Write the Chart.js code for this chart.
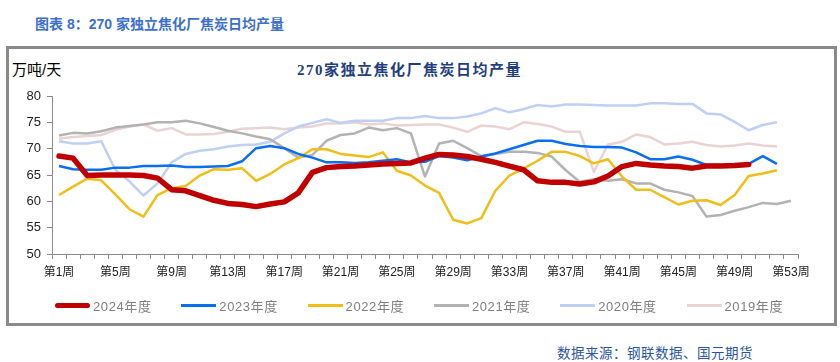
<!DOCTYPE html>
<html>
<head>
<meta charset="utf-8">
<script src="https://cdn.jsdelivr.net/npm/chart.js@4.4.1/dist/chart.umd.min.js"></script>
<style>
  body { margin: 0; background: #fff; width: 840px; height: 362px; position: relative; overflow: hidden; font-family: "Liberation Sans", "Noto Sans CJK SC", sans-serif; }
  #caption { position: absolute; left: 35px; top: 13px; font-size: 14px; font-weight: bold; color: #3d6fcc; white-space: nowrap; }
  #frame { position: absolute; left: 6px; top: 46px; width: 831px; height: 280px; box-sizing: border-box; border: 3px solid #8a8a8a; }
  #unit { position: absolute; left: 12px; top: 58px; font-size: 15px; color: #000; }
  #title { position: absolute; left: 297px; top: 58px; font-size: 15px; font-weight: bold; color: #1f3f80; letter-spacing: 1.5px; font-family: "Liberation Serif", "Noto Sans CJK SC", serif; }
  #source { position: absolute; left: 557px; top: 342px; font-size: 13.5px; color: #2a55a5; letter-spacing: 0.5px; }
  #chartBox { position: absolute; left: 0; top: 0; width: 840px; height: 362px; }
  #legend { position: absolute; left: 0; top: 296px; width: 840px; height: 18px; }
  .legend-item { position: absolute; top: 0; height: 18px; display: flex; align-items: center; white-space: nowrap; }
  .legend-line { display: inline-block; width: 35px; }
  .legend-text { margin-left: 3px; font-size: 13px; color: #808080; letter-spacing: 0.6px; }
</style>
</head>
<body>
<div id="caption">图表 8：270 家独立焦化厂焦炭日均产量</div>
<div id="frame"></div>
<div id="unit">万吨/天</div>
<div id="title">270家独立焦化厂焦炭日均产量</div>
<div id="source">数据来源：钢联数据、国元期货</div>
<div id="chartBox"><canvas id="cokeChart" width="840" height="362"></canvas></div>
<div id="legend"></div>

<script>
// weekly categories
const weeks = [
  "第1周", "第2周", "第3周", "第4周", "第5周", "第6周", "第7周", "第8周", "第9周", "第10周",
  "第11周", "第12周", "第13周", "第14周", "第15周", "第16周", "第17周", "第18周", "第19周", "第20周",
  "第21周", "第22周", "第23周", "第24周", "第25周", "第26周", "第27周", "第28周", "第29周", "第30周",
  "第31周", "第32周", "第33周", "第34周", "第35周", "第36周", "第37周", "第38周", "第39周", "第40周",
  "第41周", "第42周", "第43周", "第44周", "第45周", "第46周", "第47周", "第48周", "第49周", "第50周",
  "第51周", "第52周", "第53周",
];

// daily average output, 10k tonnes / day
const y2024 = [68.6, 68.2, 64.9, 65.0, 65.0, 65.0, 64.9, 64.4, 62.2, 62.0,
  61.1, 60.2, 59.6, 59.4, 59.0, 59.5, 59.9, 61.6, 65.5, 66.4,
  66.6, 66.7, 66.9, 67.1, 67.2, 67.3, 68.2, 68.9, 68.8, 68.5,
  68.0, 67.4, 66.7, 66.0, 63.9, 63.6, 63.6, 63.3, 63.7, 64.8,
  66.6, 67.2, 66.9, 66.7, 66.6, 66.3, 66.7, 66.7, 66.8, 67.0];
const y2023 = [66.7, 66.1, 66.0, 66.0, 66.4, 66.4, 66.7, 66.7, 66.8, 66.5,
  66.5, 66.6, 66.7, 67.6, 70.1, 70.5, 70.1, 69.0, 68.3, 67.4,
  67.4, 67.3, 67.4, 67.7, 68.0, 67.4, 67.5, 68.6, 68.3, 67.8,
  68.5, 69.1, 69.9, 70.7, 71.5, 71.5, 70.9, 70.5, 70.3, 70.3,
  70.2, 69.3, 68.0, 68.0, 68.5, 67.9, 66.9, 66.9, 66.7, 67.1,
  68.6, 67.1];
const y2022 = [61.2, 62.8, 64.3, 64.0, 61.3, 58.5, 57.1, 61.2, 62.5, 62.9,
  64.9, 66.1, 66.0, 66.3, 63.9, 65.2, 67.0, 68.2, 69.9, 69.9,
  69.0, 68.7, 68.4, 69.3, 65.8, 64.9, 63.0, 61.6, 56.5, 55.8,
  56.8, 62.0, 64.9, 66.2, 67.7, 69.4, 69.4, 68.6, 67.2, 68.0,
  64.7, 62.2, 62.2, 60.8, 59.4, 60.1, 60.2, 59.3, 61.2, 64.8,
  65.3, 65.9];
const y2021 = [72.5, 73.0, 72.9, 73.3, 74.0, 74.3, 74.6, 75.0, 75.0, 75.3,
  74.8, 74.1, 73.4, 72.9, 72.3, 71.8, 70.1, 68.3, 68.8, 71.5,
  72.6, 72.9, 74.0, 73.5, 73.9, 72.9, 64.7, 71.0, 71.5, 70.1,
  68.6, 69.0, 69.4, 69.4, 69.2, 68.5, 65.9, 63.7, 64.2, 63.9,
  64.2, 63.4, 63.4, 62.2, 61.7, 61.0, 57.1, 57.4, 58.2, 58.9,
  59.7, 59.5, 60.1];
const y2020 = [71.4, 71.0, 71.0, 71.4, 66.0, 63.8, 61.1, 63.4, 67.4, 69.0,
  69.6, 69.9, 70.4, 70.7, 70.8, 71.3, 72.9, 74.2, 74.9, 75.6,
  74.9, 75.3, 75.3, 75.3, 75.8, 75.8, 76.2, 75.8, 75.8, 76.1,
  76.7, 77.7, 76.9, 77.5, 78.3, 78.0, 78.4, 78.4, 78.3, 78.2,
  78.2, 78.2, 78.6, 78.6, 78.5, 78.5, 76.7, 76.5, 75.1, 73.5,
  74.5, 75.0];
const y2019 = [71.9, 72.2, 72.4, 72.6, 73.6, 74.2, 74.6, 73.4, 73.9, 72.7,
  72.7, 72.8, 73.2, 73.8, 73.9, 74.0, 73.7, 74.0, 74.2, 74.8,
  74.8, 75.0, 74.6, 74.8, 74.4, 74.5, 74.6, 74.6, 74.0, 73.2,
  74.4, 74.2, 73.7, 75.0, 74.7, 74.2, 73.2, 73.2, 65.6, 70.8,
  71.3, 72.7, 72.2, 70.8, 71.0, 71.3, 70.7, 70.4, 70.6, 71.0,
  70.6, 70.4];

const seriesNames = ["2024年度", "2023年度", "2022年度", "2021年度", "2020年度", "2019年度"];
const yTicks = [50, 55, 60, 65, 70, 75, 80];

let cokeChart;

document.addEventListener("DOMContentLoaded", function () {
  initializeCokeChart();
  buildLegend();
});

function makeLine(label, data, color, width) {
  return {
    label: label,
    data: data,
    borderColor: color,
    backgroundColor: color,
    borderWidth: width,
    borderCapStyle: width > 4 ? "round" : "butt",
    borderJoinStyle: "round",
    pointRadius: 0,
    pointHoverRadius: 0,
    tension: 0,
    fill: false,
  };
}

function initializeCokeChart() {
  const ctx = document.getElementById("cokeChart").getContext("2d");
  const axisColor = "#8a8a8a";

  cokeChart = new Chart(ctx, {
    type: "line",
    data: {
      labels: weeks,
      datasets: [
        makeLine(seriesNames[0], y2024, "#c00000", 5.5),
        makeLine(seriesNames[1], y2023, "#0a6ef0", 2.5),
        makeLine(seriesNames[2], y2022, "#efbe18", 2.5),
        makeLine(seriesNames[3], y2021, "#b3b3b3", 2.5),
        makeLine(seriesNames[4], y2020, "#bfcff5", 2.5),
        makeLine(seriesNames[5], y2019, "#e9d3d3", 2.5),
      ],
    },
    options: {
      responsive: false,
      animation: false,
      events: [],
      layout: {
        padding: { left: 0, right: 42, top: 96, bottom: 78 },
      },
      plugins: {
        title: { display: false },
        tooltip: { enabled: false },
        legend: { display: false },
      },
      scales: {
        x: {
          offset: true,
          afterFit: function (scale) {
            scale.height = 30;
          },
          grid: {
            offset: true,
            drawOnChartArea: false,
            drawTicks: true,
            tickLength: 5,
            color: axisColor,
          },
          border: { display: true, color: axisColor, width: 1 },
          ticks: {
            autoSkip: false,
            maxRotation: 0,
            padding: 6,
            color: "#222",
            font: { family: "'Liberation Sans', 'Noto Sans CJK SC'", size: 12 },
            callback: function (value, index) {
              return index % 4 === 0 ? weeks[index] : "";
            },
          },
        },
        y: {
          min: yTicks[0],
          max: yTicks[yTicks.length - 1],
          afterFit: function (scale) {
            scale.width = 52;
          },
          grid: {
            drawOnChartArea: false,
            drawTicks: true,
            tickLength: 5,
            color: axisColor,
          },
          border: { display: true, color: axisColor, width: 1 },
          afterBuildTicks: function (scale) {
            scale.ticks = yTicks.map((v) => ({ value: v }));
          },
          ticks: {
            padding: 6,
            color: "#222",
            font: { family: "'Liberation Sans', sans-serif", size: 13 },
          },
        },
      },
    },
  });
}

// legend drawn as html, one entry per dataset
function buildLegend() {
  const legend = document.getElementById("legend");
  cokeChart.data.datasets.forEach((ds, i) => {
    const item = document.createElement("div");
    item.className = "legend-item";
    item.style.left = 55 + i * 126.3 + "px";

    const line = document.createElement("span");
    line.className = "legend-line";
    line.style.height = ds.borderWidth > 4 ? "5px" : "3px";
    line.style.background = ds.borderColor;
    if (ds.borderWidth > 4) line.style.borderRadius = "3px";

    const text = document.createElement("span");
    text.className = "legend-text";
    text.textContent = ds.label;

    item.appendChild(line);
    item.appendChild(text);
    legend.appendChild(item);
  });
}
</script>
</body>
</html>
